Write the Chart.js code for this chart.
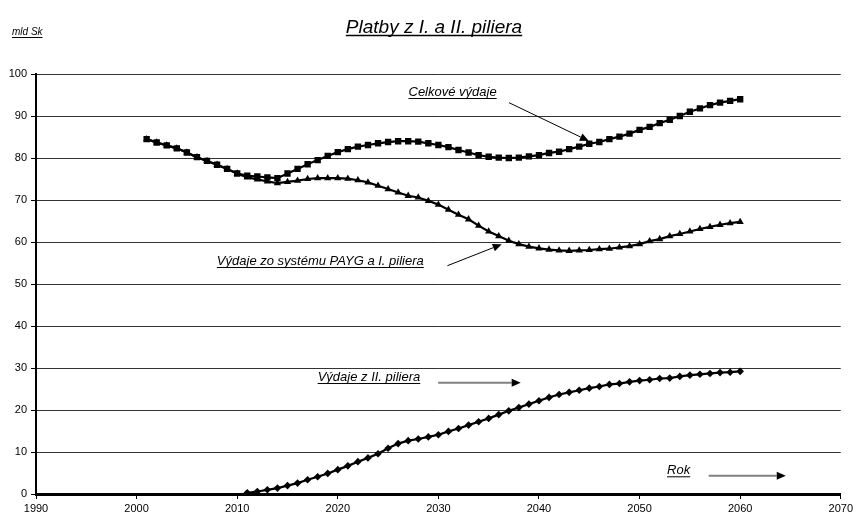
<!DOCTYPE html>
<html>
<head>
<meta charset="utf-8">
<script src="https://cdn.jsdelivr.net/npm/chart.js@4/dist/chart.umd.min.js"></script>
<style>
  html, body { margin: 0; padding: 0; background: #fff; }
  #wrap { width: 856px; height: 514px; position: relative; }
</style>
</head>
<body>
<div id="wrap"><canvas id="c" width="856" height="514"></canvas></div>
<script>
// Years of the projection (total and PAYG / 1st pillar series)
const years = [2001, 2002, 2003, 2004, 2005, 2006, 2007, 2008, 2009, 2010,
               2011, 2012, 2013, 2014, 2015, 2016, 2017, 2018, 2019, 2020,
               2021, 2022, 2023, 2024, 2025, 2026, 2027, 2028, 2029, 2030,
               2031, 2032, 2033, 2034, 2035, 2036, 2037, 2038, 2039, 2040,
               2041, 2042, 2043, 2044, 2045, 2046, 2047, 2048, 2049, 2050,
               2051, 2052, 2053, 2054, 2055, 2056, 2057, 2058, 2059, 2060];

// Years of the 2nd pillar payouts
const yearsII = [2011, 2012, 2013, 2014, 2015, 2016, 2017, 2018, 2019, 2020,
                 2021, 2022, 2023, 2024, 2025, 2026, 2027, 2028, 2029, 2030,
                 2031, 2032, 2033, 2034, 2035, 2036, 2037, 2038, 2039, 2040,
                 2041, 2042, 2043, 2044, 2045, 2046, 2047, 2048, 2049, 2050,
                 2051, 2052, 2053, 2054, 2055, 2056, 2057, 2058, 2059, 2060];

// Celkové výdaje (mld Sk)
const celkove = [84.5, 83.7, 83.0, 82.3, 81.3, 80.2, 79.3, 78.4, 77.4, 76.3,
                 75.8, 75.6, 75.4, 75.2, 76.3, 77.4, 78.5, 79.5, 80.5, 81.4,
                 82.1, 82.7, 83.1, 83.5, 83.8, 84.0, 84.0, 83.9, 83.5, 83.1,
                 82.6, 81.9, 81.3, 80.7, 80.3, 80.1, 80.0, 80.1, 80.4, 80.7,
                 81.2, 81.5, 82.1, 82.7, 83.4, 83.8, 84.5, 85.1, 85.8, 86.7,
                 87.4, 88.3, 89.1, 90.0, 91.0, 91.8, 92.6, 93.2, 93.6, 94.0];

// Výdaje zo systému PAYG a I. piliera (mld Sk)
const payg = [84.5, 83.7, 83.0, 82.3, 81.3, 80.2, 79.3, 78.4, 77.4, 76.3,
              75.4, 74.9, 74.4, 74.0, 74.3, 74.6, 75.0, 75.2, 75.2, 75.2,
              75.1, 74.7, 74.2, 73.4, 72.6, 71.8, 71.0, 70.6, 69.8, 68.9,
              67.7, 66.5, 65.4, 63.9, 62.5, 61.4, 60.3, 59.5, 58.9, 58.5,
              58.2, 58.0, 57.9, 58.0, 58.1, 58.3, 58.4, 58.7, 59.0, 59.5,
              60.2, 60.7, 61.4, 61.9, 62.5, 63.1, 63.6, 64.1, 64.5, 64.8];

// Výdaje z II. piliera (mld Sk)
const pilierII = [0.3, 0.6, 1.0, 1.4, 2.0, 2.6, 3.4, 4.1, 4.9, 5.8,
                  6.7, 7.7, 8.6, 9.6, 10.9, 12.0, 12.7, 13.1, 13.6, 14.1,
                  14.9, 15.6, 16.4, 17.2, 18.0, 18.9, 19.8, 20.6, 21.4, 22.2,
                  23.0, 23.7, 24.2, 24.7, 25.2, 25.6, 26.1, 26.3, 26.7, 27.0,
                  27.2, 27.5, 27.6, 28.0, 28.3, 28.5, 28.7, 28.9, 29.0, 29.2];

// Axis ranges
const xRange = [1990, 2070];
const yRange = [0, 100];

const FONT = '"Liberation Sans", Arial, Helvetica, sans-serif';

const toPoints = (xs, ys) => xs.map((x, i) => ({ x: x, y: ys[i] }));

// Captions and arrows, placed in data coordinates
const captions = [
  { text: 'Celkové výdaje', x: 2027.03, y: 94.76 },
  { text: 'Výdaje zo systému PAYG a I. piliera', x: 2007.98, y: 54.52 },
  { text: 'Výdaje z II. piliera', x: 2018.0, y: 26.9 },
  { text: 'Rok', x: 2052.73, y: 4.69 }
];
const arrows = [
  { from: [2037.02, 93.17], to: [2044.96, 84.05], color: '#000', width: 1 },
  { from: [2030.9, 54.36], to: [2036.3, 59.45], color: '#000', width: 1 },
  { from: [2029.98, 26.5], to: [2038.18, 26.5], color: '#808080', width: 2 },
  { from: [2056.87, 4.36], to: [2064.53, 4.36], color: '#808080', width: 2 }
];

function underlinedText(ctx, text, x, y, font, lw) {
  ctx.font = font;
  ctx.fillStyle = '#000';
  ctx.textAlign = 'left';
  ctx.textBaseline = 'alphabetic';
  ctx.fillText(text, x, y);
  const w = ctx.measureText(text).width;
  ctx.strokeStyle = '#000';
  ctx.lineWidth = lw;
  ctx.beginPath();
  ctx.moveTo(x, y + 2.5);
  ctx.lineTo(x + w, y + 2.5);
  ctx.stroke();
  return w;
}

function drawArrow(ctx, x1, y1, x2, y2, color, lw) {
  const dx = x2 - x1, dy = y2 - y1;
  const len = Math.hypot(dx, dy);
  const ux = dx / len, uy = dy / len;
  const headLen = 9, headHalf = 4;
  const bx = x2 - ux * headLen, by = y2 - uy * headLen;
  ctx.strokeStyle = color;
  ctx.lineWidth = lw;
  ctx.beginPath();
  ctx.moveTo(x1, y1);
  ctx.lineTo(bx, by);
  ctx.stroke();
  ctx.fillStyle = '#000';
  ctx.beginPath();
  ctx.moveTo(x2, y2);
  ctx.lineTo(bx - uy * headHalf, by + ux * headHalf);
  ctx.lineTo(bx + uy * headHalf, by - ux * headHalf);
  ctx.closePath();
  ctx.fill();
}

const notesPlugin = {
  id: 'notes',
  afterDatasetsDraw(chart) {
    const ctx = chart.ctx;
    const xs = chart.scales.x, ys = chart.scales.y;
    ctx.save();
    // chart title
    const titleFont = 'italic 19px ' + FONT;
    ctx.font = titleFont;
    const title = 'Platby z I. a II. piliera';
    const tw = ctx.measureText(title).width;
    underlinedText(ctx, title, 434 - tw / 2, 33, titleFont, 1.5);
    // unit label
    underlinedText(ctx, 'mld Sk', 12, 35, 'italic 10px ' + FONT, 1);
    // captions
    captions.forEach(c => {
      underlinedText(ctx, c.text, xs.getPixelForValue(c.x), ys.getPixelForValue(c.y),
                     'italic 13px ' + FONT, 1);
    });
    arrows.forEach(a => {
      drawArrow(ctx,
        xs.getPixelForValue(a.from[0]), ys.getPixelForValue(a.from[1]),
        xs.getPixelForValue(a.to[0]), ys.getPixelForValue(a.to[1]),
        a.color, a.width);
    });
    ctx.restore();
  }
};

const seriesStyle = {
  borderColor: '#000',
  backgroundColor: '#000',
  pointBackgroundColor: '#000',
  pointBorderColor: '#000',
  pointBorderWidth: 0,
  borderWidth: 2.2,
  tension: 0,
  fill: false
};

new Chart(document.getElementById('c'), {
  type: 'line',
  data: {
    datasets: [
      Object.assign({ label: 'Celkové výdaje', data: toPoints(years, celkove),
                      pointStyle: 'rect', pointRadius: 4.5 }, seriesStyle),
      Object.assign({ label: 'Výdaje zo systému PAYG a I. piliera', data: toPoints(years, payg),
                      pointStyle: 'triangle', pointRadius: 4.2 }, seriesStyle),
      Object.assign({ label: 'Výdaje z II. piliera', data: toPoints(yearsII, pilierII),
                      pointStyle: 'rectRot', pointRadius: 3.8 }, seriesStyle)
    ]
  },
  options: {
    responsive: false,
    devicePixelRatio: 1,
    animation: false,
    layout: { padding: { top: 74, right: 13.5, bottom: 0, left: 0 } },
    plugins: { legend: { display: false }, tooltip: { enabled: false }, title: { display: false } },
    scales: {
      x: {
        type: 'linear',
        min: xRange[0], max: xRange[1],
        afterFit(s) { s.height = 20; },
        ticks: { stepSize: 10, color: '#000', font: { family: FONT, size: 11 }, padding: 3,
                 maxRotation: 0, callback: v => String(v) },
        grid: { drawOnChartArea: false, drawTicks: true, tickLength: 5, color: '#000', tickWidth: 1 },
        border: { display: true, color: '#000', width: 3 }
      },
      y: {
        min: yRange[0], max: yRange[1],
        afterFit(s) { s.width = 36; },
        ticks: { stepSize: 10, color: '#000', font: { family: FONT, size: 11 }, padding: 4 },
        grid: { color: '#333', lineWidth: 1, drawTicks: true, tickLength: 5, tickColor: '#000' },
        border: { display: true, color: '#000', width: 2 }
      }
    }
  },
  plugins: [notesPlugin]
});
</script>
</body>
</html>
